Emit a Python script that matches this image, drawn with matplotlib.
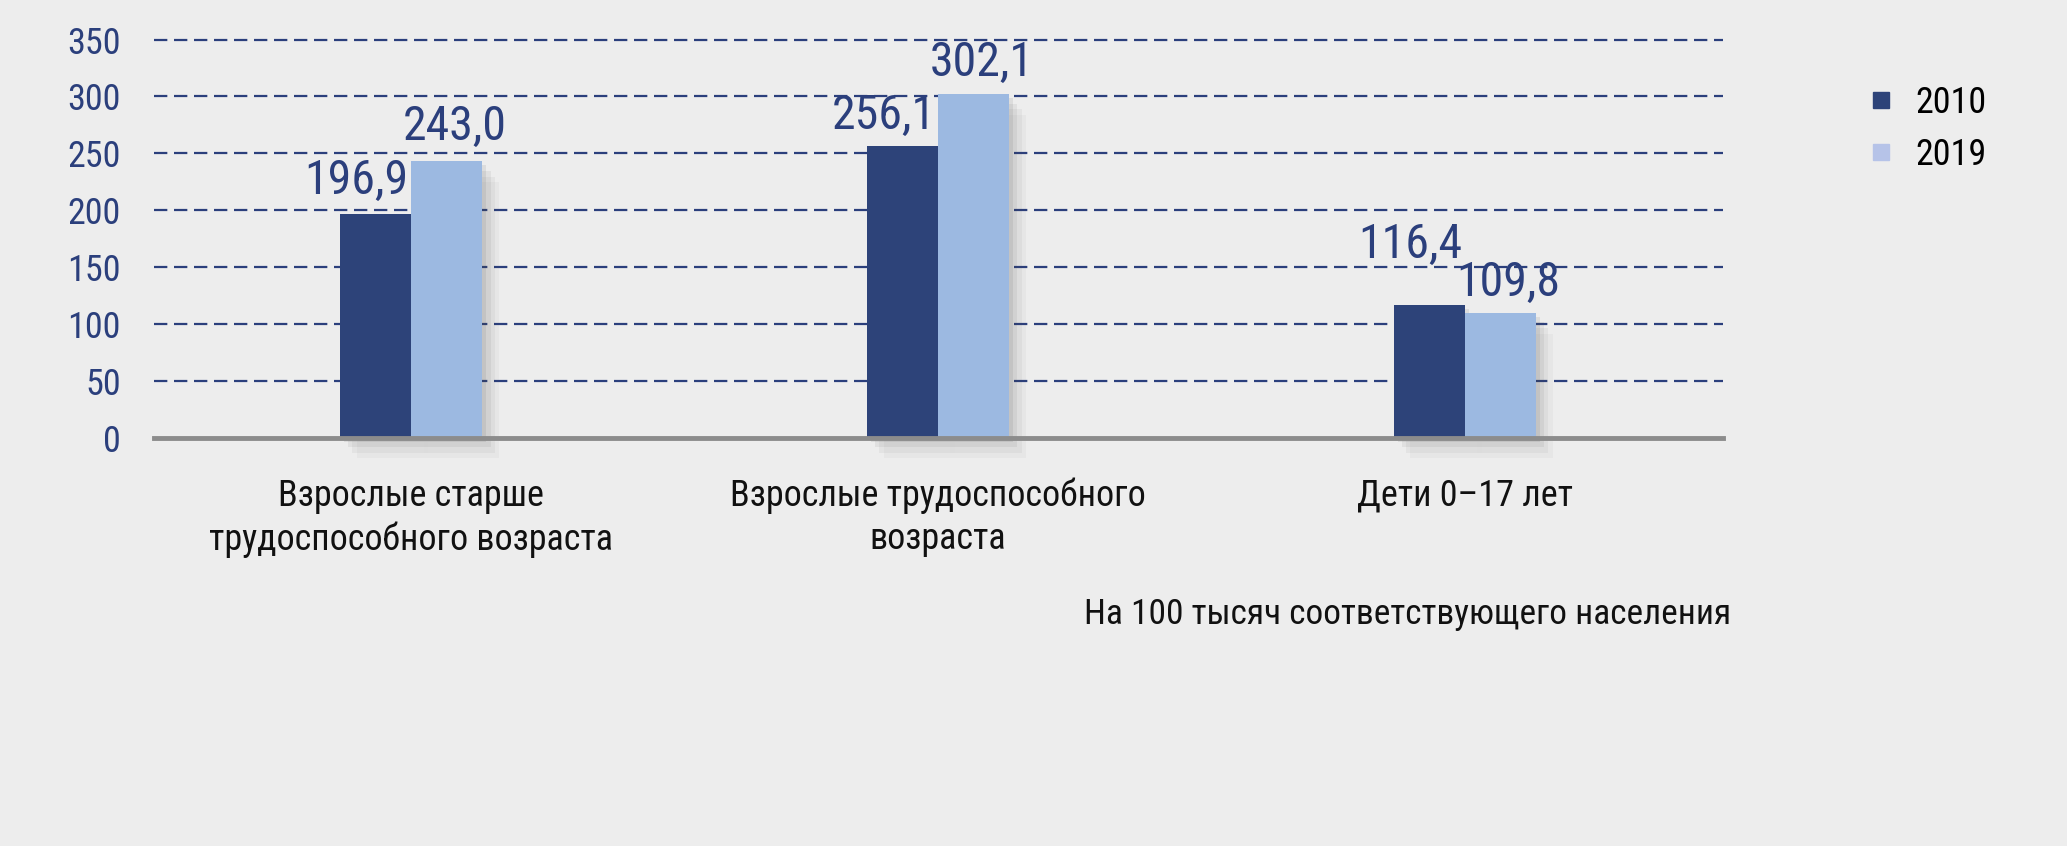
import matplotlib
matplotlib.use("Agg")
import numpy as np
import matplotlib.pyplot as plt
import matplotlib.patheffects as pe
from matplotlib.lines import Line2D

# data
categories = ["Взрослые старше\nтрудоспособного возраста",
              "Взрослые трудоспособного\nвозраста",
              "Дети 0–17 лет"]
years = ["2010", "2019"]
values_2010 = [196.9, 256.1, 116.4]
values_2019 = [243.0, 302.1, 109.8]
yticks = [0, 50, 100, 150, 200, 250, 300, 350]

# extra lift of value labels (points), so 116,4 clears 109,8
lift_2010 = [2, 0, 22]
lift_2019 = [3, 1, 0]

dark = "#2d4379"
light = "#9cb9e1"
navy = "#2b3f7c"
bg = "#ededed"

plt.rcParams["font.family"] = ["Roboto Condensed", "DejaVu Sans"]

fig = plt.figure(figsize=(20.67, 8.46), dpi=100, facecolor=bg)
ax = fig.add_axes([154 / 2067, 1 - 437.6 / 846, (1723 - 154) / 2067, 409.4 / 846])
ax.set_facecolor(bg)

x = np.arange(len(categories))
w = 0.135

# soft-ish drop shadow to the right and below
shadow = [pe.SimplePatchShadow(offset=(3, -3), shadow_rgbFace="#4a4a4a", alpha=0.10),
          pe.SimplePatchShadow(offset=(6, -7), shadow_rgbFace="#4a4a4a", alpha=0.08),
          pe.SimplePatchShadow(offset=(9, -11), shadow_rgbFace="#4a4a4a", alpha=0.06),
          pe.SimplePatchShadow(offset=(12, -15), shadow_rgbFace="#4a4a4a", alpha=0.04),
          pe.Normal()]

b1 = ax.bar(x - w / 2, values_2010, w, color=dark, zorder=3, path_effects=shadow, clip_on=False)
b2 = ax.bar(x + w / 2, values_2019, w, color=light, zorder=3, path_effects=shadow, clip_on=False)

for bars, vals, lifts, dx in [(b1, values_2010, lift_2010, -0.036),
                              (b2, values_2019, lift_2019, 0.015)]:
    for rect, v, lift in zip(bars, vals, lifts):
        ax.annotate(f"{v:.1f}".replace(".", ","),
                    (rect.get_x() + rect.get_width() / 2 + dx, v),
                    xytext=(0, 5 + lift), textcoords="offset points",
                    ha="center", va="bottom", fontsize=34.5, color=navy, zorder=5)

# dashed grid
for t in yticks[1:]:
    ax.axhline(t, color=navy, lw=1.6, ls=(0, (6, 3)), zorder=1)
ax.axhline(0, color="#8c8c8c", lw=3.5, zorder=4, clip_on=False)

ax.set_xlim(-0.488, 2.49)
ax.set_ylim(0, 360)
ax.set_yticks(yticks)
ax.set_yticklabels([str(t) for t in yticks], fontsize=26, color=navy)
ax.set_xticks(x)
ax.set_xticklabels(categories, fontsize=26, color="#111111", linespacing=1.25)
ax.tick_params(axis="y", length=0, pad=24)
ax.tick_params(axis="x", length=0, pad=29)
for s in ax.spines.values():
    s.set_visible(False)

fig.text(1731 / 2067, 1 - 614 / 846, "На 100 тысяч соответствующего населения",
         ha="right", va="center", fontsize=25.5, color="#111111")

handles = [Line2D([], [], marker="s", ls="", color=dark, markersize=11),
           Line2D([], [], marker="s", ls="", color="#b6c3e8", markersize=11)]
fig.legend(handles, years, loc="upper left", bbox_to_anchor=(1867 / 2067, 0.900),
           frameon=False, fontsize=26, handlelength=0.8, handletextpad=0.55,
           labelspacing=0.45, borderpad=0, borderaxespad=0)

fig.savefig("out.png", dpi=100, facecolor=bg)
